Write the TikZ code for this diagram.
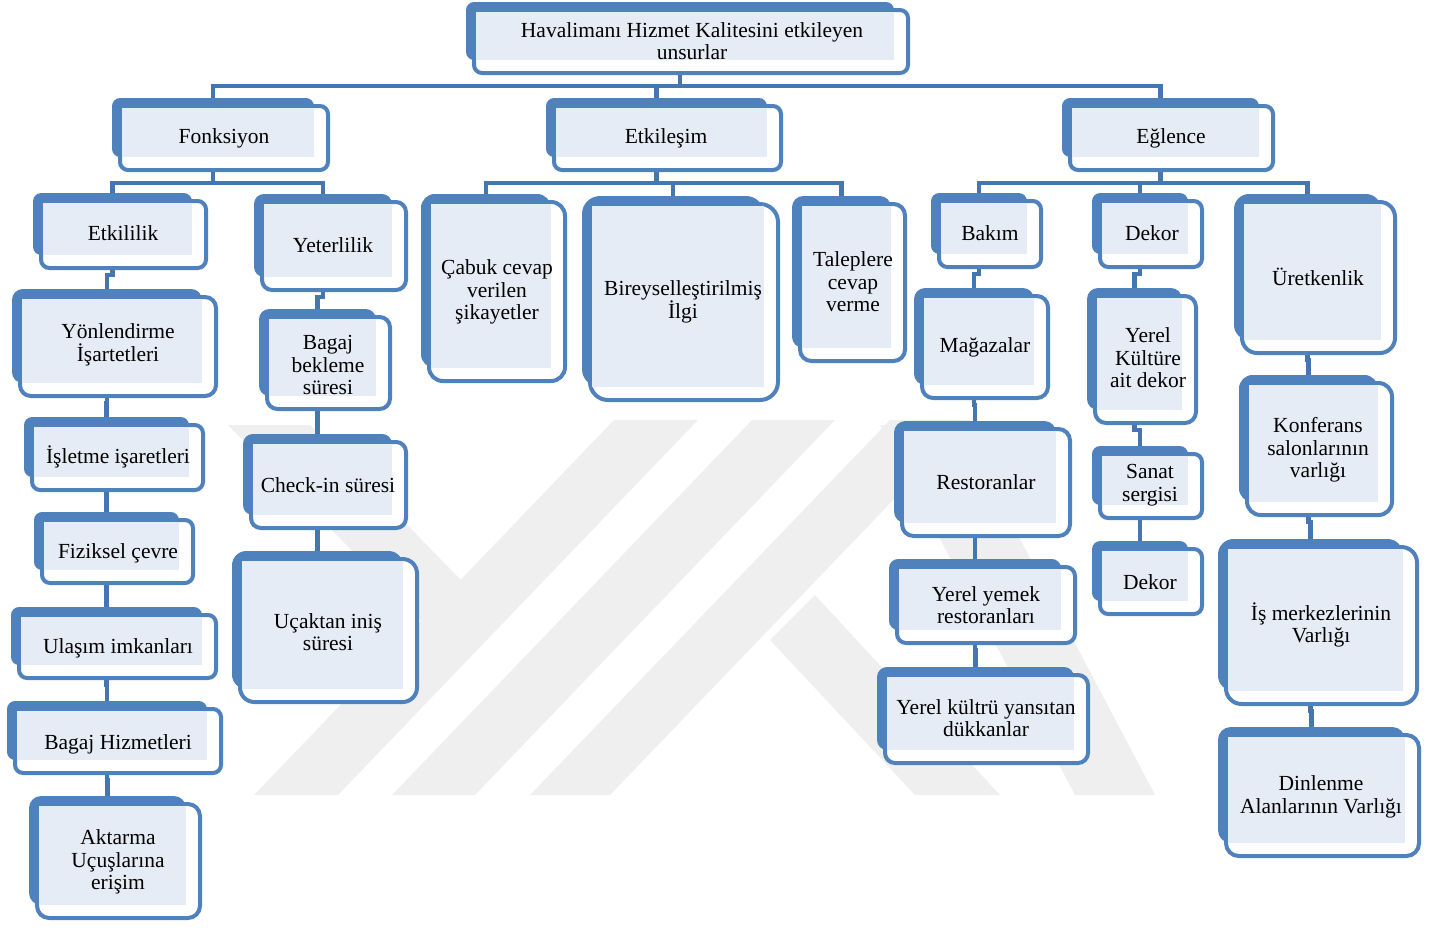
\documentclass[tikz,border=0pt]{standalone}
\usepackage{fontspec}
\setmainfont{Liberation Serif}
\definecolor{boxblue}{RGB}{79,129,189}
\definecolor{connblue}{RGB}{70,118,175}
\definecolor{patblue}{RGB}{230,236,245}
\definecolor{wmgray}{RGB}{239,239,239}
\pgfdeclarelayer{wm}\pgfdeclarelayer{bg}\pgfsetlayers{wm,bg,main}
\tikzset{
 backbox/.style={fill=boxblue, draw=none, inner sep=0pt, outer sep=0pt},
 frontbox/.style={fill=white, draw=boxblue, line width=4pt, inner sep=0pt, outer sep=0pt},
 patfill/.style={fill=patblue},
 txt/.style={align=center, font=\fontsize{21.5}{22.5}\selectfont, inner sep=0pt},
 conn/.style={draw=connblue, line width=4.5pt},
 wmark/.style={fill=wmgray}
}
% name, x0, y0, x1, y1 (front box), text x, text y, text
\newcommand\hbx[8]{%
 \pgfmathsetmacro\bw{#4-#2-10}\pgfmathsetmacro\bh{#5-#3-9}%
 \pgfmathsetmacro\fw{#4-#2-4}\pgfmathsetmacro\fh{#5-#3-4}%
 \pgfmathsetmacro\rr{min(\fw,\fh)*0.08+3}%
 \node[backbox,rounded corners=\rr pt,minimum width=\bw pt,minimum height=\bh pt,anchor=north west] (#1-b) at (#2-6,#3-6) {};
 \node[frontbox,rounded corners=\rr pt,minimum width=\fw pt,minimum height=\fh pt,anchor=north west] (#1) at (#2+2,#3+2) {};
 \fill[patfill] (#2+4,#3+4) rectangle (#4-16,#5-15);
 \node[txt] (#1-t) at (#6,#7) {#8};
}
\newcommand\lnk[2]{\draw[conn] (#1-b |- #1.south) -- ++(0,7) -| (#2-b.north);}
\begin{document}
\begin{tikzpicture}[x=1pt,y=-1pt]
\useasboundingbox (0,0) rectangle (1443,930);
\begin{pgfonlayer}{wm}
 \fill[wmark] (614,420) -- (698,420) -- (338,795) -- (254,795) -- cycle;
 \fill[wmark] (752,420) -- (835,420) -- (475,795) -- (392,795) -- cycle;
 \fill[wmark] (890,420) -- (970,420) -- (610,795) -- (530,795) -- cycle;
 \fill[wmark] (228,425) -- (310,425) -- (495,615) -- (455,655) -- cycle;
 \fill[wmark] (880,425) -- (960,425) -- (1155,795) -- (1075,795) -- cycle;
 \fill[wmark] (770,640) -- (815,595) -- (1000,795) -- (915,795) -- cycle;
\end{pgfonlayer}

\hbx{root}{472}{8}{910}{75}{692}{41}{Havalimanı Hizmet Kalitesini etkileyen\\unsurlar}
\hbx{fonk}{118}{104}{330}{172}{224}{138}{Fonksiyon}
\hbx{etk}{552}{104}{783}{172}{666}{138}{Etkileşim}
\hbx{egl}{1068}{104}{1275}{172}{1171}{138}{Eğlence}

\hbx{etl}{39}{199}{208}{270}{123}{233}{Etkililik}
\hbx{yet}{260}{200}{408}{292}{333}{245}{Yeterlilik}
\hbx{cab}{427}{200}{567}{383}{497}{292}{Çabuk cevap\\verilen\\şikayetler}
\hbx{bir}{588}{202}{780}{402}{683}{302}{Bireyselleştirilmiş\\İlgi}
\hbx{tal}{798}{202}{907}{363}{853}{282}{Taleplere\\cevap\\verme}
\hbx{bak}{937}{199}{1043}{269}{990}{233}{Bakım}
\hbx{dek}{1098}{199}{1204}{269}{1152}{233}{Dekor}
\hbx{ure}{1240}{200}{1397}{355}{1318}{277}{Üretkenlik}

\hbx{yon}{18}{295}{218}{398}{118}{345}{Yönlendirme\\İşartetleri}
\hbx{isl}{30}{423}{205}{492}{118}{457}{İşletme işaretleri}
\hbx{fiz}{40}{518}{195}{585}{118}{553}{Fiziksel çevre}
\hbx{ula}{17}{613}{218}{680}{118}{648}{Ulaşım imkanları}
\hbx{bhz}{13}{707}{223}{775}{118}{744}{Bagaj Hizmetleri}
\hbx{akt}{35}{802}{202}{920}{118}{862}{Aktarma\\Uçuşlarına\\erişim}

\hbx{bbs}{265}{315}{392}{411}{328}{365}{Bagaj\\bekleme\\süresi}
\hbx{chk}{249}{440}{408}{530}{328}{485}{Check-in süresi}
\hbx{ucs}{238}{557}{419}{704}{328}{632}{Uçaktan iniş\\süresi}

\hbx{mag}{920}{294}{1050}{400}{985}{347}{Mağazalar}
\hbx{res}{900}{427}{1072}{538}{986}{482}{Restoranlar}
\hbx{yym}{895}{565}{1077}{645}{986}{605}{Yerel yemek\\restoranları}
\hbx{ykd}{883}{673}{1090}{765}{986}{718}{Yerel kültrü yansıtan\\dükkanlar}

\hbx{ykt}{1093}{294}{1198}{425}{1148}{358}{Yerel\\Kültüre\\ait dekor}
\hbx{san}{1098}{452}{1204}{520}{1150}{485}{Sanat\\sergisi}
\hbx{dk2}{1098}{547}{1204}{616}{1150}{582}{Dekor}

\hbx{kon}{1245}{381}{1394}{517}{1318}{450}{Konferans\\salonlarının\\varlığı}
\hbx{ism}{1224}{545}{1419}{706}{1321}{625}{İş merkezlerinin\\Varlığı}
\hbx{din}{1224}{733}{1421}{858}{1321}{797}{Dinlenme\\Alanlarının Varlığı}

\coordinate (tb) at (0,86);
\coordinate (mb) at (0,183);
\begin{pgfonlayer}{bg}
 \draw[conn] (root-b |- root.south) -- (root-b |- tb);
 \draw[conn] (fonk-b.north) -- (fonk-b |- tb) -- (egl-b |- tb) -- (egl-b.north);
 \draw[conn] (etk-b |- tb) -- (etk-b.north);

 \draw[conn] (fonk-b |- fonk.south) -- (fonk-b |- mb);
 \draw[conn] (etl-b.north) -- (etl-b |- mb) -- (yet-b |- mb) -- (yet-b.north);
 \draw[conn] (etk-b |- etk.south) -- (etk-b |- mb);
 \draw[conn] (cab-b.north) -- (cab-b |- mb) -- (tal-b |- mb) -- (tal-b.north);
 \draw[conn] (bir-b |- mb) -- (bir-b.north);
 \draw[conn] (egl-b |- egl.south) -- (egl-b |- mb);
 \draw[conn] (bak-b.north) -- (bak-b |- mb) -- (ure-b |- mb) -- (ure-b.north);
 \draw[conn] (dek-b |- mb) -- (dek-b.north);

 \lnk{etl}{yon}\lnk{yon}{isl}\lnk{isl}{fiz}\lnk{fiz}{ula}\lnk{ula}{bhz}\lnk{bhz}{akt}
 \lnk{yet}{bbs}\lnk{bbs}{chk}\lnk{chk}{ucs}
 \lnk{bak}{mag}\lnk{mag}{res}\lnk{res}{yym}\lnk{yym}{ykd}
 \lnk{dek}{ykt}\lnk{ykt}{san}\lnk{san}{dk2}
 \lnk{ure}{kon}\lnk{kon}{ism}\lnk{ism}{din}
\end{pgfonlayer}
\end{tikzpicture}
\end{document}
